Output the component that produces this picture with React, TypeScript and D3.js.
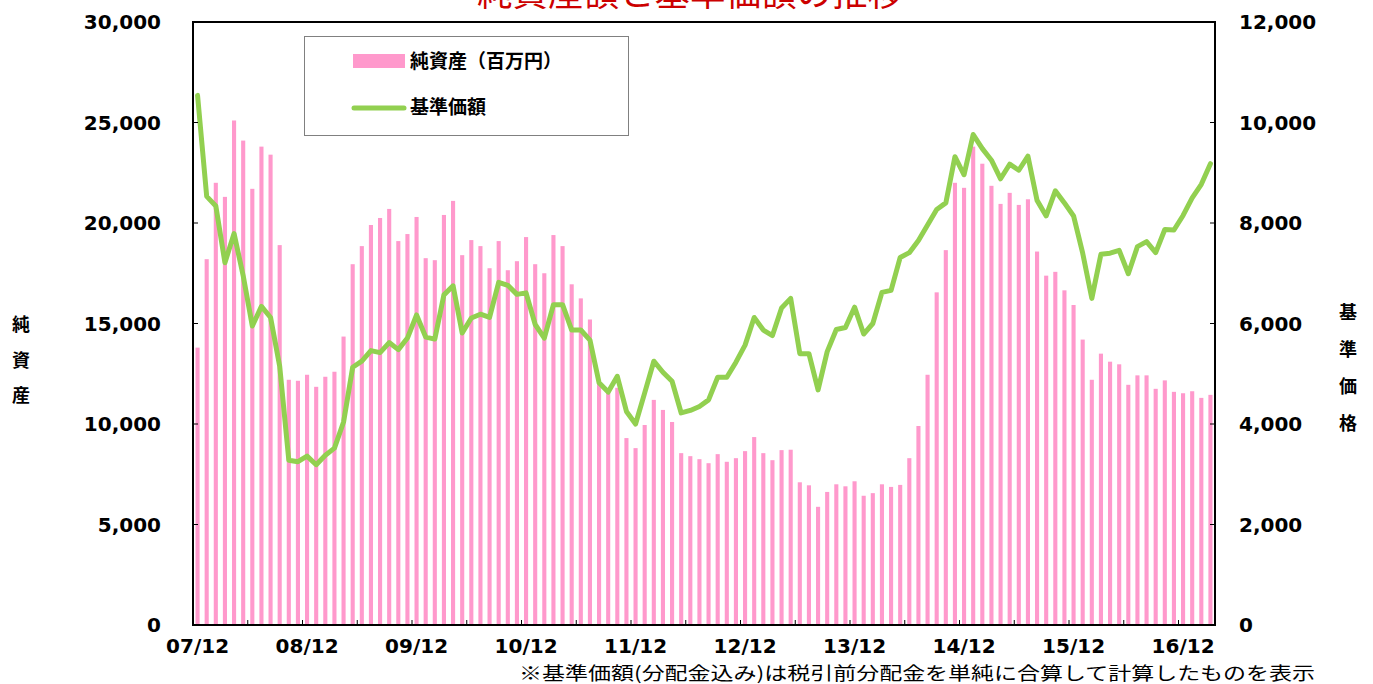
import React from "react";
import * as d3 from "d3";

// ---- data (monthly, 2007/12 .. 2017/03) ----
const startYear = 2007;
const startMonth = 12;
const monthCount = 112;

const netAssets: number[] = [
  13800, 18200, 22000, 21300, 25100, 24100, 21700, 23800, 23400, 18900,
  12200, 12150, 12450, 11850, 12350, 12600, 14350, 17950, 18850, 19900,
  20250, 20700, 19100, 19450, 20300, 18250, 18150, 20400, 21100, 18400,
  19150, 18850, 17750, 19100, 17650, 18100, 19300, 17950, 17500, 19400,
  18850, 16950, 16250, 15200, 12000, 11600, 11800, 9300, 8800, 9950,
  11200, 10700, 10100, 8550, 8400, 8250, 8050, 8500, 8120, 8300,
  8650, 9350, 8550, 8200, 8700, 8720, 7100, 6950, 5880, 6620,
  7000, 6900, 7150, 6430, 6560, 7000, 6870, 6970, 8300, 9900,
  12450, 16550, 18650, 22000, 21750, 23800, 22950, 21850, 20950, 21500,
  20900, 21180, 18580, 17380, 17570, 16650, 15920, 14200, 12200, 13500,
  13100, 12970, 11950, 12420, 12420, 11750, 12170, 11600, 11530, 11630,
  11300, 11450,
];

const navPrice: number[] = [
  10540, 8530, 8340, 7210, 7790, 6950, 5950, 6340, 6120, 5150,
  3280, 3250, 3360, 3190, 3380, 3520, 4040, 5130, 5250, 5460,
  5420, 5620, 5480, 5710, 6170, 5730, 5690, 6570, 6750, 5810,
  6110, 6185, 6120, 6820, 6760, 6580, 6610, 5980, 5710, 6375,
  6375, 5870, 5870, 5670, 4820, 4635, 4950, 4250, 4000, 4620,
  5250, 5030, 4850, 4220, 4270, 4350, 4480, 4930, 4930, 5230,
  5570, 6120, 5870, 5760, 6310, 6500, 5400, 5400, 4680, 5440,
  5880, 5920, 6325, 5790, 6000, 6620, 6660, 7315, 7410, 7650,
  7960, 8270, 8400, 9320, 8960, 9760, 9480, 9250, 8880, 9170,
  9050, 9330, 8450, 8140, 8640, 8400, 8140, 7400, 6500, 7380,
  7400, 7455, 6990, 7530, 7630, 7410, 7870, 7860, 8150, 8500,
  8770, 9180,
];

const xTickLabels = ["07/12", "08/12", "09/12", "10/12", "11/12", "12/12", "13/12", "14/12", "15/12", "16/12"];
const leftTicks = [0, 5000, 10000, 15000, 20000, 25000, 30000];
const rightTicks = [0, 2000, 4000, 6000, 8000, 10000, 12000];

const titleText = "純資産額と基準価額の推移";
const legendBar = "純資産（百万円）";
const legendLine = "基準価額";
const leftAxisTitle = ["純", "資", "産"];
const rightAxisTitle = ["基", "準", "価", "格"];
const footnote = "※基準価額(分配金込み)は税引前分配金を単純に合算して計算したものを表示";

const months: string[] = [];
for (let i = 0; i < monthCount; i++) {
  const m0 = startMonth - 1 + i;
  const y = startYear + Math.floor(m0 / 12);
  const m = (m0 % 12) + 1;
  months.push(`${String(y % 100).padStart(2, "0")}/${String(m).padStart(2, "0")}`);
}

const W = 1373;
const H = 684;
const L = 193;
const R = 1215;
const T = 22;
const B = 625;

const PINK = "#FF99CC";
const GREEN = "#92D050";
const NUM_FONT = "'DejaVu Sans', Verdana, sans-serif";
const JP_FONT = "'Noto Sans CJK JP', 'Noto Sans CJK SC', sans-serif";

export default function App() {
  const x = d3
    .scaleBand<string>()
    .domain(months)
    .range([L, R])
    .paddingInner(0.55)
    .paddingOuter(0.275);
  const yL = d3.scaleLinear().domain([0, 30000]).range([B, T]);
  const yR = d3.scaleLinear().domain([0, 12000]).range([B, T]);
  const bw = x.bandwidth();
  const step = x.step();

  const line = d3
    .line<number>()
    .x((_, i) => (x(months[i]) as number) + bw / 2)
    .y((d) => yR(d));

  const fmt = d3.format(",");

  const boundaryTicks: number[] = [];
  for (let i = 6; i < monthCount; i += 6) boundaryTicks.push(i);

  return (
    <svg
      width={W}
      height={H}
      style={{ position: "absolute", left: 0, top: 0, background: "#fff" }}
    >
      <rect x={0} y={0} width={W} height={H} fill="#fff" />
      {/* title (cropped at top, as in the reference) */}
      <text
        x={690}
        y={6}
        textAnchor="middle"
        fontFamily={JP_FONT}
        fontSize={36}
        fill="#CC0000"
        textLength={426}
        lengthAdjust="spacingAndGlyphs"
      >
        {titleText}
      </text>

      {/* bars */}
      {netAssets.map((v, i) => (
        <rect
          key={i}
          x={x(months[i]) as number}
          y={yL(v)}
          width={bw}
          height={B - yL(v)}
          fill={PINK}
        />
      ))}

      {/* line */}
      <path
        d={line(navPrice) || ""}
        fill="none"
        stroke={GREEN}
        strokeWidth={5}
        strokeLinejoin="round"
        strokeLinecap="round"
      />

      {/* ticks */}
      {leftTicks.map((t) => (
        <line key={"lt" + t} x1={L} x2={L + 5} y1={yL(t)} y2={yL(t)} stroke="#000" strokeWidth={1} />
      ))}
      {rightTicks.map((t) => (
        <line key={"rt" + t} x1={R - 5} x2={R} y1={yR(t)} y2={yR(t)} stroke="#000" strokeWidth={1} />
      ))}
      {boundaryTicks.map((i) => (
        <line
          key={"bt" + i}
          x1={L + step * i}
          x2={L + step * i}
          y1={B}
          y2={B - 5}
          stroke="#000"
          strokeWidth={1}
        />
      ))}

      {/* frame */}
      <rect x={L} y={T} width={R - L} height={B - T} fill="none" stroke="#000" strokeWidth={2} />

      {/* left axis labels */}
      {leftTicks.map((t) => (
        <text
          key={"ll" + t}
          x={161}
          y={yL(t)}
          dy="0.36em"
          textAnchor="end"
          fontFamily={NUM_FONT}
          fontWeight="bold"
          fontSize={20}
          fill="#000"
        >
          {fmt(t)}
        </text>
      ))}
      {/* right axis labels */}
      {rightTicks.map((t) => (
        <text
          key={"rl" + t}
          x={1239}
          y={yR(t)}
          dy="0.36em"
          textAnchor="start"
          fontFamily={NUM_FONT}
          fontWeight="bold"
          fontSize={20}
          fill="#000"
        >
          {fmt(t)}
        </text>
      ))}
      {/* x labels */}
      {xTickLabels.map((lab, k) => (
        <text
          key={"xl" + lab}
          x={(x(months[k * 12]) as number) + bw / 2}
          y={646}
          dy="0.36em"
          textAnchor="middle"
          fontFamily={NUM_FONT}
          fontWeight="bold"
          fontSize={20}
          fill="#000"
        >
          {lab}
        </text>
      ))}

      {/* axis titles */}
      {leftAxisTitle.map((c, i) => (
        <text
          key={"lat" + i}
          x={21}
          y={325 + i * 35.5}
          dy="0.36em"
          textAnchor="middle"
          fontFamily={JP_FONT}
          fontWeight="bold"
          fontSize={18}
          fill="#000"
        >
          {c}
        </text>
      ))}
      {rightAxisTitle.map((c, i) => (
        <text
          key={"rat" + i}
          x={1348}
          y={313 + i * 37}
          dy="0.36em"
          textAnchor="middle"
          fontFamily={JP_FONT}
          fontWeight="bold"
          fontSize={18}
          fill="#000"
        >
          {c}
        </text>
      ))}

      {/* legend */}
      <rect x={304.5} y={36.5} width={324} height={99} fill="#fff" stroke="#808080" strokeWidth={1} />
      <rect x={353} y={54} width={52} height={14} fill={PINK} />
      <text x={410} y={61} dy="0.36em" fontFamily={JP_FONT} fontWeight="bold" fontSize={19} fill="#000">
        {legendBar}
      </text>
      <line x1={354} x2={404} y1={108} y2={108} stroke={GREEN} strokeWidth={5} strokeLinecap="round" />
      <text x={410} y={107} dy="0.36em" fontFamily={JP_FONT} fontWeight="bold" fontSize={19} fill="#000">
        {legendLine}
      </text>

      {/* footnote */}
      <text
        x={519}
        y={680}
        fontFamily={JP_FONT}
        fontSize={18}
        fill="#000"
        textLength={796}
        lengthAdjust="spacingAndGlyphs"
      >
        {footnote}
      </text>
    </svg>
  );
}
